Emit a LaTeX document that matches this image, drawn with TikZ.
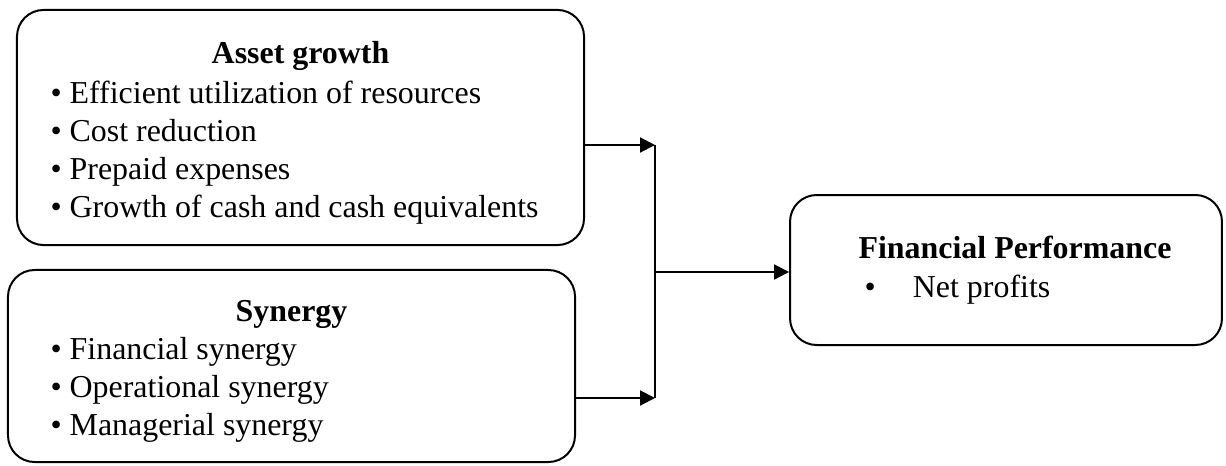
\documentclass[tikz,border=0pt]{standalone}
\usepackage{fontspec}
\setmainfont{Liberation Serif}
\usepackage{tikz}
\usetikzlibrary{positioning, arrows.meta, calc}

\begin{document}
\begin{tikzpicture}[x=0.376pt,y=-0.376pt]
            \tikzstyle{panel}=[draw,line width=0.75pt,rounded corners=10pt,inner sep=0pt]
            \tikzstyle{heading}=[font=\fontsize{12pt}{14pt}\selectfont\bfseries,anchor=base,inner sep=0pt]
            \tikzstyle{item}=[font=\fontsize{12pt}{14pt}\selectfont,anchor=base west,inner sep=0pt]
            \tikzstyle{link}=[line width=0.75pt,-{Triangle[length=5.6pt,width=5.6pt]}]

            \useasboundingbox (0,0) rectangle (1226,465);

            % boxes
            \node (assetbox) [panel,minimum width=213.2pt,minimum height=88.4pt] at (300.5,127.5) {};
            \node (synbox) [panel,minimum width=213.2pt,minimum height=72.2pt] at (291.5,366) {};
            \node (perfbox) [panel,minimum width=162.4pt,minimum height=56.4pt] at (1006,270) {};

            % texts
            \node (assettitle) [heading] at (300.5,63) {Asset growth};
            \foreach \txt [count=\i] in {Efficient utilization of resources, Cost reduction,
                Prepaid expenses, Growth of cash and cash equivalents}
                \node (asset\i) [item] at (50,65+38*\i) {\textbullet\ \txt};

            \node (syntitle) [heading] at (291.5,321) {Synergy};
            \foreach \txt [count=\i] in {Financial synergy, Operational synergy, Managerial synergy}
                \node (syn\i) [item] at (50,321+38*\i) {\textbullet\ \txt};

            \node (perftitle) [heading] at (1015,258) {Financial Performance};
            \node (perf1) [item] at (864,297) {\textbullet\hspace{14pt}Net profits};

            % connectors
            \coordinate (join1) at (655,145);
            \coordinate (join2) at (655,398);
            \coordinate (joinmid) at (655,272);
            \draw [link] (assetbox.east |- join1) -- (join1);
            \draw [link] (synbox.east |- join2) -- (join2);
            \draw [line width=0.75pt] (join1) -- (join2);
            \draw [link] (joinmid) -- (perfbox.west |- joinmid);
\end{tikzpicture}
\end{document}
